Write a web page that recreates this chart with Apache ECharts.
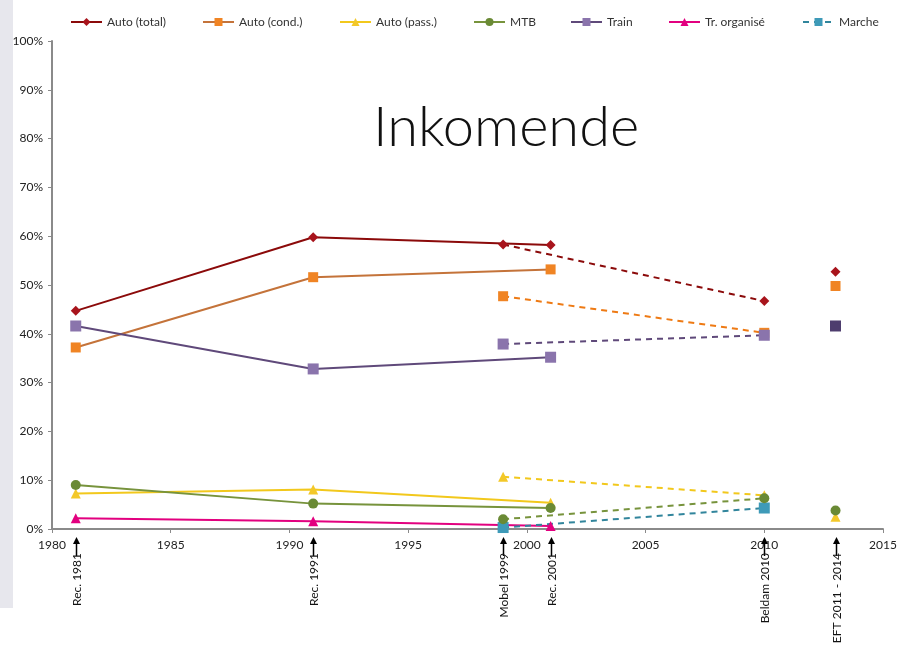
<!DOCTYPE html>
<html>
<head>
<meta charset="utf-8">
<script src="https://cdn.jsdelivr.net/npm/echarts@6/dist/echarts.min.js"></script>
<style>
  html, body { margin: 0; padding: 0; background: #fff; }
  #chart { width: 908px; height: 645px; }
</style>
</head>
<body>
<div id="chart"></div>
<script>
// Survey sources shown under the time axis
const sourceYears = [1981, 1991, 1999, 2001, 2010, 2013];
const sourceLabels = ['Rec. 1981', 'Rec. 1991', 'Mobel 1999', 'Rec. 2001', 'Beldam 2010', 'EFT 2011 - 2014'];

// Census years (solid lines), survey years (dashed lines), EFT point
const recYears = [1981, 1991, 2001];
const surveyYears = [1999, 2010];
const eftYear = 2013;

// Modal shares in percent
const autoTotalRec = [44.7, 59.8, 58.2];
const autoTotalSurvey = [58.3, 46.7];
const autoTotalEft = 52.7;

const autoCondRec = [37.2, 51.6, 53.2];
const autoCondSurvey = [47.7, 40.2];
const autoCondEft = 49.8;

const autoPassRec = [7.3, 8.1, 5.4];
const autoPassSurvey = [10.7, 6.9];
const autoPassEft = 2.5;

const mtbRec = [9.0, 5.2, 4.3];
const mtbSurvey = [2.0, 6.3];
const mtbEft = 3.8;

const trainRec = [41.6, 32.8, 35.2];
const trainSurvey = [37.9, 39.7];
const trainEft = 41.6;

const trOrgRec = [2.2, 1.6, 0.6];

const marcheSurvey = [0.3, 4.3];

const yTicks = [0, 10, 20, 30, 40, 50, 60, 70, 80, 90, 100];
const xTicks = [1980, 1985, 1990, 1995, 2000, 2005, 2010, 2015];

const FONT = 'Lato, "Open Sans", sans-serif';

const pairs = (xs, ys) => xs.map((x, i) => [x, ys[i]]);

function solid(name, xs, ys, color, markerColor, symbol, size) {
  return {
    name, type: 'line', data: pairs(xs, ys),
    symbol, symbolSize: size,
    lineStyle: { color, width: 2 },
    itemStyle: { color: markerColor },
    z: 3
  };
}
function dashed(name, xs, ys, color, markerColor, symbol, size) {
  return {
    name, type: 'line', data: pairs(xs, ys),
    symbol, symbolSize: size,
    lineStyle: { color, width: 2, type: [6, 5] },
    itemStyle: { color: markerColor },
    z: 3
  };
}
function single(name, x, y, markerColor, symbol, size) {
  return {
    name, type: 'line', data: [[x, y]],
    symbol, symbolSize: size, showSymbol: true,
    lineStyle: { width: 0 },
    itemStyle: { color: markerColor },
    z: 4
  };
}

const C = {
  total: '#8B0A0A', totalM: '#A8141C',
  cond: '#C4733A', condD: '#EE7A14', condM: '#F08424',
  pass: '#F2C81C', passM: '#F3C829',
  mtb: '#77933C', mtbM: '#6A8A35',
  train: '#5F497A', trainM: '#8A74AC', trainEft: '#4E3D6E',
  org: '#E2007F',
  marche: '#31859C', marcheM: '#3E9AB8'
};

const series = [
  solid('Auto (total)', recYears, autoTotalRec, C.total, C.totalM, 'diamond', 10),
  solid('Auto (cond.)', recYears, autoCondRec, C.cond, C.condM, 'rect', 10),
  solid('Auto (pass.)', recYears, autoPassRec, C.pass, C.passM, 'triangle', 10),
  solid('MTB', recYears, mtbRec, C.mtb, C.mtbM, 'circle', 10),
  solid('Train', recYears, trainRec, C.train, C.trainM, 'rect', 11),
  solid('Tr. organisé', recYears, trOrgRec, C.org, C.org, 'triangle', 10),
  dashed('Marche', surveyYears, marcheSurvey, C.marche, C.marcheM, 'rect', 11),

  dashed('Auto (total)', surveyYears, autoTotalSurvey, C.total, C.totalM, 'diamond', 10),
  dashed('Auto (cond.)', surveyYears, autoCondSurvey, C.condD, C.condM, 'rect', 10),
  dashed('Auto (pass.)', surveyYears, autoPassSurvey, C.pass, C.passM, 'triangle', 10),
  dashed('MTB', surveyYears, mtbSurvey, C.mtb, C.mtbM, 'circle', 10),
  dashed('Train', surveyYears, trainSurvey, C.train, C.trainM, 'rect', 11),

  single('Auto (total)', eftYear, autoTotalEft, C.totalM, 'diamond', 10),
  single('Auto (cond.)', eftYear, autoCondEft, C.condM, 'rect', 10),
  single('Auto (pass.)', eftYear, autoPassEft, C.passM, 'triangle', 10),
  single('MTB', eftYear, mtbEft, C.mtbM, 'circle', 10),
  single('Train', eftYear, trainEft, C.trainEft, 'rect', 11),

  {
    // source arrows and vertical captions under the time axis
    type: 'custom',
    data: sourceYears.map((y, i) => [y, 0, i]),
    clip: false,
    silent: true,
    z: 10,
    renderItem: function (params, api) {
      const p = api.coord([api.value(0), 0]);
      const i = api.value(2);
      const x = Math.round(p[0]) + 0.5;
      const tip = p[1] + 8;
      return {
        type: 'group',
        children: [
          { type: 'line', shape: { x1: x, y1: tip + 4, x2: x, y2: tip + 19 },
            style: { stroke: '#000', lineWidth: 1.5 } },
          { type: 'polygon', shape: { points: [[x, tip], [x - 3.5, tip + 7], [x + 3.5, tip + 7]] },
            style: { fill: '#000' } },
          { type: 'text', x: x + 1, y: tip + 16, rotation: Math.PI / 2,
            style: { text: sourceLabels[i], align: 'right', verticalAlign: 'middle',
                     fill: '#111', font: '12px ' + FONT } }
        ]
      };
    }
  }
];

const legendNames = ['Auto (total)', 'Auto (cond.)', 'Auto (pass.)', 'MTB', 'Train', 'Tr. organisé', 'Marche'];
const legendLeft = [70, 202, 339, 473, 570, 668, 802];

const chart = echarts.init(document.getElementById('chart'), null, { renderer: 'canvas' });
chart.setOption({
  animation: false,
  backgroundColor: '#fff',
  graphic: [
    { type: 'rect', left: 0, top: 0, shape: { width: 13, height: 608 },
      style: { fill: '#E7E7ED' }, z: -10 },
    { type: 'text', left: 373, top: 100,
      style: { text: 'Inkomende', fill: '#111', font: '300 56px ' + FONT } }
  ],
  legend: legendNames.map((n, i) => ({
    data: [n],
    left: legendLeft[i], top: 16, padding: 0,
    itemWidth: 31, itemHeight: 10, itemGap: 0,
    textStyle: { fontFamily: FONT, fontSize: 12, color: '#333' },
    selectedMode: false
  })),
  grid: { left: 52, right: 25, top: 41, bottom: 116, containLabel: false },
  xAxis: {
    type: 'value', min: xTicks[0], max: xTicks[xTicks.length - 1], interval: 5,
    axisLine: { lineStyle: { color: '#8A8A8A', width: 2 } },
    axisTick: { show: true, length: 4, lineStyle: { color: '#8A8A8A', width: 1 } },
    axisLabel: { color: '#222', fontFamily: FONT, fontSize: 12, margin: 10,
                 formatter: v => String(v) },
    splitLine: { show: false }
  },
  yAxis: {
    type: 'value', min: yTicks[0], max: yTicks[yTicks.length - 1], interval: 10,
    axisLine: { show: true, lineStyle: { color: '#8A8A8A', width: 2 } },
    axisTick: { show: true, length: 4, lineStyle: { color: '#8A8A8A', width: 1 } },
    axisLabel: { color: '#222', fontFamily: FONT, fontSize: 12, margin: 9,
                 formatter: v => v + '%' },
    splitLine: { show: false }
  },
  series
});
</script>
</body>
</html>
